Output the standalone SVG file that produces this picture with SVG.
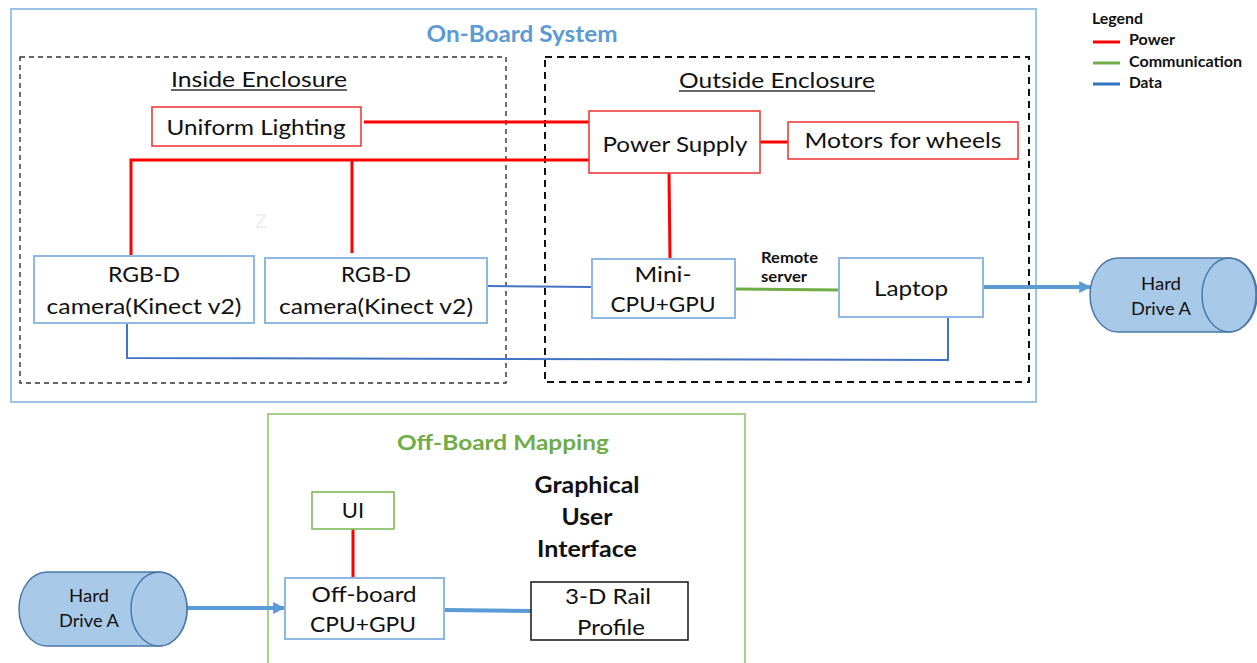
<svg xmlns="http://www.w3.org/2000/svg" width="1257" height="663" viewBox="0 0 1257 663">
  <style>
    text { font-family: Lato, "Liberation Sans", sans-serif; fill: #111; }
    .lbl { font-size: 22px; text-anchor: middle; }
    .small { font-size: 17px; text-anchor: middle; }
    .bold { font-weight: bold; }
    .box-red { fill: #fff; stroke: #F03C3C; stroke-width: 1.6; }
    .box-blue { fill: #fff; stroke: #8FB8E2; stroke-width: 2; }
    .box-green { fill: #fff; stroke: #7DBB5A; stroke-width: 1.6; }
    .box-black { fill: #fff; stroke: #222; stroke-width: 1.6; }
    .drum { fill: #A9C9E9; stroke: #4A78A8; stroke-width: 1.5; }
    .power { stroke: #FF0000; stroke-width: 3; fill: none; }
    .comm { stroke: #70AD47; stroke-width: 3; fill: none; }
    .data { stroke: #4472C4; stroke-width: 2; fill: none; }
    .flow { stroke: #5B9BD5; stroke-width: 4; fill: none; }
  </style>
  <defs>
    <marker id="arrow" viewBox="0 0 10 10" refX="9" refY="5" markerWidth="3" markerHeight="3.2" orient="auto" markerUnits="strokeWidth">
      <path d="M0,0 L10,5 L0,10 z" fill="#5B9BD5"/>
    </marker>
  </defs>

  <rect width="1257" height="663" fill="#fff"/>

  <!-- containers -->
  <g id="on-board-system">
    <rect x="11" y="9" width="1025" height="393" fill="none" stroke="#9DC3E6" stroke-width="2"/>
    <text x="522" y="42" class="bold" font-size="22" text-anchor="middle" style="fill:#5B9BD5" textLength="191" lengthAdjust="spacingAndGlyphs">On-Board System</text>
  </g>
  <g id="inside-enclosure">
    <rect x="20" y="57" width="486" height="326" fill="none" stroke="#333" stroke-width="1.4" stroke-dasharray="5 4"/>
    <text x="259" y="87" class="lbl" textLength="176" lengthAdjust="spacingAndGlyphs">Inside Enclosure</text>
    <line x1="171" y1="90" x2="347" y2="90" stroke="#333" stroke-width="1.3"/>
  </g>
  <g id="outside-enclosure">
    <rect x="545" y="57" width="484" height="325" fill="none" stroke="#111" stroke-width="2" stroke-dasharray="7 5"/>
    <text x="777" y="88" class="lbl" textLength="196" lengthAdjust="spacingAndGlyphs">Outside Enclosure</text>
    <line x1="679" y1="91" x2="875" y2="91" stroke="#333" stroke-width="1.3"/>
  </g>
  <g id="off-board-mapping">
    <rect x="268" y="414" width="477" height="260" fill="none" stroke="#A9D18E" stroke-width="2"/>
    <text x="503" y="450" class="bold" font-size="21" text-anchor="middle" style="fill:#70AD47" textLength="212" lengthAdjust="spacingAndGlyphs">Off-Board Mapping</text>
  </g>

  <!-- connectors -->
  <g id="connectors">
    <line class="power" x1="364" y1="122" x2="589" y2="122"/>
    <polyline class="power" points="589,160 131,160 131,256"/>
    <line class="power" x1="352" y1="160" x2="352" y2="253"/>
    <line class="power" x1="760" y1="142" x2="788" y2="142"/>
    <line class="power" x1="669" y1="173" x2="670" y2="259"/>
    <line class="power" x1="353" y1="529" x2="353" y2="578"/>
    <line class="data" x1="487" y1="286" x2="592" y2="287"/>
    <polyline class="data" points="127,323 127,358 948,360 948,317"/>
    <line class="comm" x1="735" y1="289" x2="839" y2="290"/>
    <line class="flow" x1="983" y1="287" x2="1090" y2="287" marker-end="url(#arrow)"/>
    <line class="flow" x1="187" y1="608" x2="284" y2="608" marker-end="url(#arrow)"/>
    <line class="flow" stroke-width="3" x1="444" y1="610" x2="531" y2="611"/>
    <text x="761" y="263" class="bold" font-size="15" textLength="57" lengthAdjust="spacingAndGlyphs">Remote</text>
    <text x="761" y="282" class="bold" font-size="15" textLength="46" lengthAdjust="spacingAndGlyphs">server</text>
  </g>

  <!-- nodes -->
  <g id="uniform-lighting">
    <rect class="box-red" x="152" y="107" width="209" height="39"/>
    <text x="256" y="135" class="lbl" textLength="179" lengthAdjust="spacingAndGlyphs">Uniform Lighting</text>
  </g>
  <g id="power-supply">
    <rect class="box-red" x="589" y="111" width="171" height="62"/>
    <text x="675" y="152" class="lbl" textLength="145" lengthAdjust="spacingAndGlyphs">Power Supply</text>
  </g>
  <g id="motors">
    <rect class="box-red" x="788" y="122" width="230" height="37"/>
    <text x="903" y="148" class="lbl" textLength="197" lengthAdjust="spacingAndGlyphs">Motors for wheels</text>
  </g>
  <g id="camera-1">
    <rect class="box-blue" x="34" y="256" width="220" height="67"/>
    <text x="144" y="282" class="lbl" textLength="72" lengthAdjust="spacingAndGlyphs">RGB-D</text>
    <text x="144" y="314" class="lbl" textLength="195" lengthAdjust="spacingAndGlyphs">camera(Kinect v2)</text>
  </g>
  <g id="camera-2">
    <rect class="box-blue" x="265" y="258" width="222" height="65"/>
    <text x="376" y="282" class="lbl" textLength="70" lengthAdjust="spacingAndGlyphs">RGB-D</text>
    <text x="376" y="314" class="lbl" textLength="194" lengthAdjust="spacingAndGlyphs">camera(Kinect v2)</text>
  </g>
  <g id="mini-cpu-gpu">
    <rect class="box-blue" x="592" y="259" width="143" height="59"/>
    <text x="663" y="282" class="lbl" textLength="57" lengthAdjust="spacingAndGlyphs">Mini-</text>
    <text x="663" y="312" class="lbl" textLength="105" lengthAdjust="spacingAndGlyphs">CPU+GPU</text>
  </g>
  <g id="laptop">
    <rect class="box-blue" x="839" y="258" width="144" height="59"/>
    <text x="911" y="296" class="lbl" textLength="74" lengthAdjust="spacingAndGlyphs">Laptop</text>
  </g>
  <g id="hard-drive-onboard">
    <path class="drum" d="M1118,258 L1229,258 A28,37 0 0 1 1229,332 L1118,332 A28,37 0 0 1 1118,258 z"/>
    <ellipse class="drum" cx="1229" cy="295" rx="27" ry="37"/>
    <text x="1161" y="290" class="small" textLength="40" lengthAdjust="spacingAndGlyphs">Hard</text>
    <text x="1161" y="315" class="small" textLength="60" lengthAdjust="spacingAndGlyphs">Drive A</text>
  </g>
  <g id="faint-mark">
    <text x="261" y="228" font-size="20" style="fill:#ececec" text-anchor="middle">Z</text>
  </g>
  <g id="ui">
    <rect class="box-green" x="312" y="492" width="82" height="37"/>
    <text x="353" y="518" class="lbl">UI</text>
  </g>
  <g id="offboard-cpu-gpu">
    <rect class="box-blue" x="285" y="578" width="159" height="61"/>
    <text x="364" y="602" class="lbl" textLength="105" lengthAdjust="spacingAndGlyphs">Off-board</text>
    <text x="363" y="632" class="lbl" textLength="106" lengthAdjust="spacingAndGlyphs">CPU+GPU</text>
  </g>
  <g id="gui-label">
    <text x="587" y="493" class="lbl bold" textLength="105" lengthAdjust="spacingAndGlyphs">Graphical</text>
    <text x="587" y="525" class="lbl bold" textLength="51" lengthAdjust="spacingAndGlyphs">User</text>
    <text x="587" y="557" class="lbl bold" textLength="100" lengthAdjust="spacingAndGlyphs">Interface</text>
  </g>
  <g id="rail-profile">
    <rect class="box-black" x="531" y="582" width="157" height="58"/>
    <text x="608" y="604" class="lbl" textLength="86" lengthAdjust="spacingAndGlyphs">3-D Rail</text>
    <text x="611" y="635" class="lbl" textLength="68" lengthAdjust="spacingAndGlyphs">Profile</text>
  </g>
  <g id="hard-drive-offboard">
    <path class="drum" d="M47,572 L159,572 A28,37 0 0 1 159,646 L47,646 A28,37 0 0 1 47,572 z"/>
    <ellipse class="drum" cx="159" cy="609" rx="28" ry="37"/>
    <text x="89" y="602" class="small" textLength="40" lengthAdjust="spacingAndGlyphs">Hard</text>
    <text x="89" y="627" class="small" textLength="60" lengthAdjust="spacingAndGlyphs">Drive A</text>
  </g>

  <!-- legend -->
  <g id="legend">
    <text x="1092" y="24" class="bold" font-size="15" textLength="51" lengthAdjust="spacingAndGlyphs">Legend</text>
    <line x1="1093" y1="42" x2="1120" y2="42" stroke="#FF0000" stroke-width="3"/>
    <text x="1129" y="45" class="bold" font-size="15" textLength="46" lengthAdjust="spacingAndGlyphs">Power</text>
    <line x1="1093" y1="63" x2="1120" y2="63" stroke="#70AD47" stroke-width="3"/>
    <text x="1129" y="67" class="bold" font-size="15" textLength="113" lengthAdjust="spacingAndGlyphs">Communication</text>
    <line x1="1093" y1="84" x2="1120" y2="84" stroke="#2E75C6" stroke-width="3"/>
    <text x="1129" y="88" class="bold" font-size="15" textLength="33" lengthAdjust="spacingAndGlyphs">Data</text>
  </g>
</svg>
